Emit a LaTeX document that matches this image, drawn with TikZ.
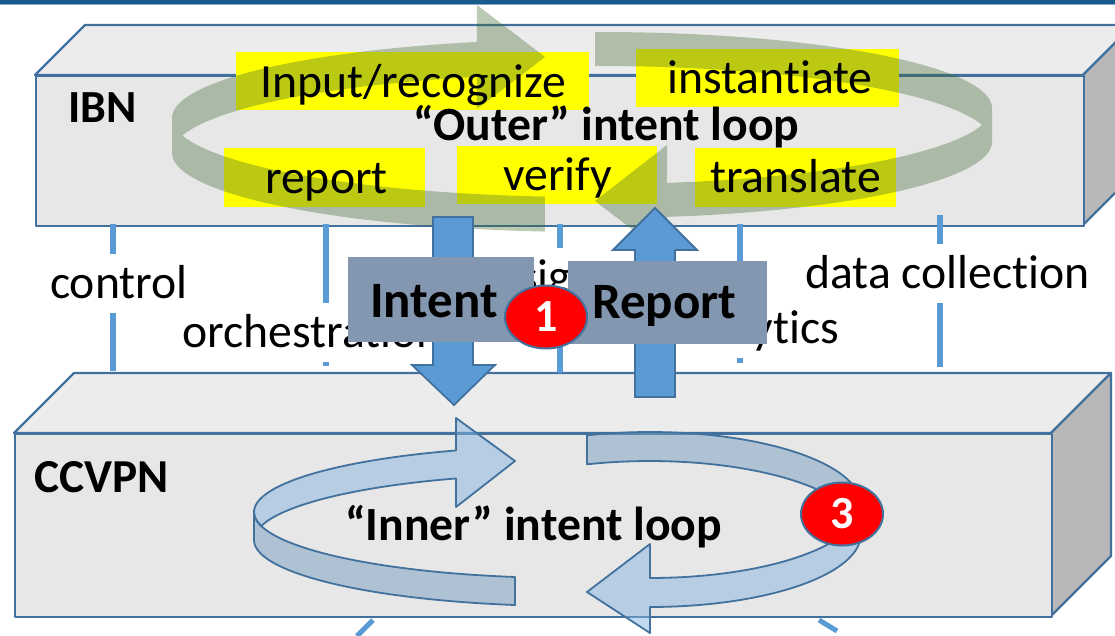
\documentclass[tikz,border=0pt]{standalone}
\usepackage{fontspec}
\setmainfont{Carlito}[RawFeature=-liga]
\usetikzlibrary{shapes.geometric}
\definecolor{boxline}{RGB}{65,113,156}
\definecolor{frontface}{RGB}{231,231,231}
\definecolor{topface}{RGB}{236,236,236}
\definecolor{sideface}{RGB}{184,184,184}
\definecolor{linkblue}{RGB}{91,155,213}
\definecolor{hilite}{RGB}{255,255,0}
\definecolor{loopgreen}{RGB}{67,107,51}
\definecolor{tagfill}{RGB}{132,151,176}
\definecolor{ribbonlight}{RGB}{136,180,226}
\definecolor{ribbongray}{RGB}{118,158,192}
\definecolor{topbar}{RGB}{27,91,140}
\definecolor{topbarlight}{RGB}{127,167,204}
\begin{document}
\begin{tikzpicture}[x=1pt,y=-1pt,
  face/.style={draw=boxline,line width=2.2pt,line join=round},
  lbl/.style={font=\fontsize{47.7}{52}\selectfont,inner sep=0pt,anchor=base west},
  bold/.style={font=\fontsize{47.7}{52}\selectfont\bfseries,inner sep=0pt,anchor=base west},
  cut/.style={lbl,fill=white,text height=44pt,text depth=15pt,inner xsep=3pt},
  hl/.style={fill=hilite,inner sep=0pt,anchor=north west},
  outerloop/.style={fill=loopgreen,fill opacity=0.36},
  ribbon/.style={draw=boxline,line width=1.8pt,line join=round,fill opacity=0.5},
  link/.style={draw=linkblue,line width=6.5pt},
  blockarrow/.style={fill=linkblue,draw=boxline,line width=1.8pt,line join=miter},
  tag/.style={fill=tagfill,inner sep=0pt,anchor=north west},
  badge/.style={ellipse,fill=red,draw=boxline,line width=2pt,minimum width=82pt,
    minimum height=63pt,inner sep=0pt,text=white,font=\fontsize{46}{50}\selectfont\bfseries}
]
\useasboundingbox (0,0) rectangle (1115,635);
\clip (0,0) rectangle (1115,635);

% title rule
\fill[topbar] (0,0) rectangle (1115,3.5);
\draw[topbarlight,line width=1.2pt] (0,4.6) -- (1115,4.6);

% IBN layer (cuboid)
\filldraw[face,fill=topface] (35,75) -- (85,25) -- (1133,25) -- (1083,75) -- cycle;
\filldraw[face,fill=sideface] (1083,75) -- (1133,25) -- (1133,175) -- (1083,225) -- cycle;
\node[face,fill=frontface,inner sep=0pt,anchor=north west,minimum width=1048pt,minimum height=150pt] (ibn) at (35,75) {};

% CCVPN layer (cuboid)
\filldraw[face,fill=topface] (14,433) -- (74,373) -- (1111,373) -- (1051,433) -- cycle;
\filldraw[face,fill=sideface] (1051,433) -- (1111,373) -- (1111,556) -- (1051,616) -- cycle;
\node[face,fill=frontface,inner sep=0pt,anchor=north west,minimum width=1037pt,minimum height=183pt] (ccvpn) at (14,433) {};

% function links between the layers
\draw[link] (113,224) -- (113,371);
\draw[link] (326,224) -- (326,366);
\draw[link] (560,224) -- (560,373);
\draw[link] (740,224) -- (740,363);
\draw[link] (940,215) -- (940,367);
\draw[link,line width=5pt] (357,636) -- (373,620);
\draw[link,line width=5pt] (819,620) -- (837,631);

% function names
\node[cut] (control) at (47,298) {control};
\node[cut] (orch) at (179,347) {orchestration};
\node[cut] (design) at (467,292) {design};
\node[cut] (analytics) at (667,343) {analytics};
\node[cut] (datacoll) at (802,288) {data collection};

% highlighted loop steps
\node[hl,minimum width=353pt,minimum height=58pt] (hInput) at (236,52) {};
\node[hl,minimum width=263pt,minimum height=58pt] (hInst) at (636,49) {};
\node[hl,minimum width=201pt,minimum height=59pt] (hReport) at (224,148) {};
\node[hl,minimum width=200pt,minimum height=58pt] (hVerify) at (457,146) {};
\node[hl,minimum width=201pt,minimum height=59pt] (hTrans) at (695,148) {};

% outer intent loop: two translucent ribbon arrows
\fill[outerloop] (545,57) -- (477,5)
  -- plot[domain=254.4:180,samples=40] ({589+417*cos(\x)},{118+79*sin(\x)})
  -- plot[domain=180:96.06,samples=40] ({589+417*cos(\x)},{153+79*sin(\x)})
  -- plot[domain=96.06:167.2,samples=40] ({589+417*cos(\x)},{118+79*sin(\x)})
  -- plot[domain=192.8:254.4,samples=40] ({589+417*cos(\x)},{153+79*sin(\x)})
  -- (477,109) -- cycle;
\fill[outerloop] plot[domain=269.27:360,samples=50] ({600+392*cos(\x)},{108+76*sin(\x)})
  -- plot[domain=0:80.16,samples=40] ({600+392*cos(\x)},{142+76*sin(\x)})
  -- (667,256) -- (595,201) -- (667,145)
  -- plot[domain=80.16:12.93,samples=40] ({600+392*cos(\x)},{108+76*sin(\x)})
  -- plot[domain=347.07:269.27,samples=50] ({600+392*cos(\x)},{142+76*sin(\x)})
  -- cycle;

% IBN texts
\node[bold,font=\fontsize{46}{50}\selectfont\bfseries] (ibnname) at (68,122) {IBN};
\node[lbl] (tInput) at (260,97) {Input/recognize};
\node[lbl] (tInst) at (667,93) {instantiate};
\node[lbl] (tReport) at (265,193) {report};
\node[lbl] (tVerify) at (503,190) {verify};
\node[lbl] (tTrans) at (710,192) {translate};
\node[bold] (outer) at (413,140) {“Outer” intent loop};

% inner intent loop: left arrow (back band, then front band)
\filldraw[ribbon,fill=ribbonlight] (515,461) -- (456,418)
  -- plot[domain=248.85:167.75,samples=50] ({570+316*cos(\x)},{512+66*sin(\x)})
  -- plot[domain=192.25:248.85,samples=40] ({570+316*cos(\x)},{540+66*sin(\x)})
  -- (456,507) -- cycle;
\filldraw[ribbon,fill=ribbongray] plot[domain=180:100.02,samples=40] ({570+316*cos(\x)},{512+66*sin(\x)})
  -- plot[domain=100.02:180,samples=40] ({570+316*cos(\x)},{540+66*sin(\x)}) -- cycle;
% inner intent loop: right arrow
\filldraw[ribbon,fill=ribbongray] plot[domain=252.63:371.46,samples=60] ({650+211*cos(\x)},{505+73*sin(\x)})
  -- plot[domain=348.54:252.63,samples=50] ({650+211*cos(\x)},{534+73*sin(\x)}) -- cycle;
\filldraw[ribbon,fill=ribbonlight] plot[domain=0:90,samples=40] ({650+211*cos(\x)},{505+73*sin(\x)})
  -- (650,544) -- (587,592) -- (650,633)
  -- plot[domain=90:0,samples=40] ({650+211*cos(\x)},{534+73*sin(\x)}) -- cycle;

\node[bold,font=\fontsize{47.3}{50}\selectfont\bfseries] (ccvpnname) at (34,492) {CCVPN};
\node[bold] (inner) at (345,540) {“Inner” intent loop};

% intent goes down, report comes up
\filldraw[blockarrow] (433,217) -- (473,217) -- (473,365) -- (495,365) -- (454,405)
  -- (412,365) -- (433,365) -- cycle;
\filldraw[blockarrow] (635,397) -- (675,397) -- (675,250) -- (697,250) -- (655,208)
  -- (613,250) -- (635,250) -- cycle;
\node[tag,minimum width=186pt,minimum height=85pt] (intentbox) at (348,257) {};
\node[tag,minimum width=199pt,minimum height=83pt] (reportbox) at (568,261) {};
\node[bold,font=\fontsize{51}{56}\selectfont\bfseries] (intent) at (370,317) {Intent};
\node[bold,font=\fontsize{51}{56}\selectfont\bfseries] (report) at (592,318) {Report};

% step markers
\node[badge] (step1) at (546,317) {1};
\node[badge] (step3) at (842,514) {3};
\end{tikzpicture}
\end{document}
